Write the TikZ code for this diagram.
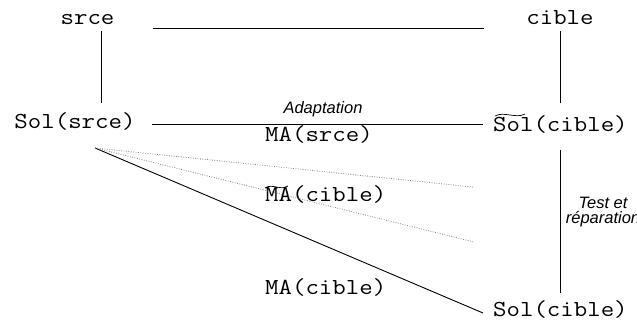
\documentclass[tikz,border=0pt]{standalone}
\usepackage{fontspec}
\setmainfont{Liberation Sans}
\setsansfont{Liberation Sans}
\setmonofont[FakeStretch=1.14]{Latin Modern Mono}
\usetikzlibrary{positioning, calc}

\begin{document}
\begin{tikzpicture}[
    x=1pt, y=-1pt,
    term/.style={inner sep=0pt, anchor=base, font=\fontsize{22.9}{26}\selectfont\ttfamily},
    lbl/.style={inner sep=0pt, anchor=base, font=\fontsize{16.5}{15}\selectfont\sffamily\itshape},
    link/.style={line width=0.9pt},
    guess/.style={line width=0.8pt, gray, dash pattern=on 0.8pt off 1.6pt},
    wave/.style={line width=0.7pt}
]
    \useasboundingbox (0,0) rectangle (637,327);
    \clip (0,0) rectangle (637,327);

    % Cases
    \node[term] (srce) at (87.5,24) {srce};
    \node[term] (cible) at (560,24) {cible};

    % Solutions
    \node[term] (solsrce) at (75,128) {Sol(srce)};
    \node[term, anchor=base west] (soltc) at (493,131) {Sol(cible)};
    \node[term, anchor=base west] (solc) at (493,316) {Sol(cible)};

    % Labels
    \node[lbl] (adapt) at (323,113) {Adaptation};
    \node[term, anchor=base west] (masrce) at (265,141) {MA(srce)};
    \node[term, anchor=base west] (matc) at (265,201) {MA(cible)};
    \node[term, anchor=base west] (mac) at (265,294) {MA(cible)};
    \node[lbl, align=center, anchor=north] (test) at (603,197) {Test et\\réparation};

    % Tildes
    \draw[wave] ([xshift=2pt, yshift=15pt]soltc.base west) .. controls +(9,-5) and +(-9,5) .. ([xshift=32pt, yshift=17pt]soltc.base west);
    \draw[wave] ([xshift=0pt, yshift=13pt]matc.base west) .. controls +(7,-5) and +(-7,5) .. ([xshift=23pt, yshift=15pt]matc.base west);

    % Links
    \draw[link, shorten <=38pt, shorten >=42pt] ([yshift=-4pt]srce.base east) -- ([yshift=-4pt]cible.base west);
    \draw[link, shorten <=7pt, shorten >=25pt] ([xshift=13.5pt]srce.base) -- ([xshift=13.5pt]srce.base |- solsrce.base);
    \draw[link, shorten <=7pt, shorten >=28pt] (cible.base) -- (cible.base |- soltc.base);
    \draw[link, shorten <=19pt, shorten >=23pt] (cible.base |- soltc.base) -- (cible.base |- solc.base);
    \draw[link, shorten <=16pt, shorten >=10pt] ([yshift=4pt]solsrce.base east) -- ([yshift=4pt]solsrce.base east -| soltc.west);

    % Fan
    \coordinate (fan) at ([xshift=20pt, yshift=-20pt]solsrce.base);
    \coordinate (g1) at (473,187);
    \coordinate (g2) at (474,242);
    \draw[link] (fan) -- ([xshift=-10pt, yshift=3pt]solc.base west);
    \draw[guess] (fan) -- (g1);
    \draw[guess] (fan) -- (g2);
\end{tikzpicture}
\end{document}
